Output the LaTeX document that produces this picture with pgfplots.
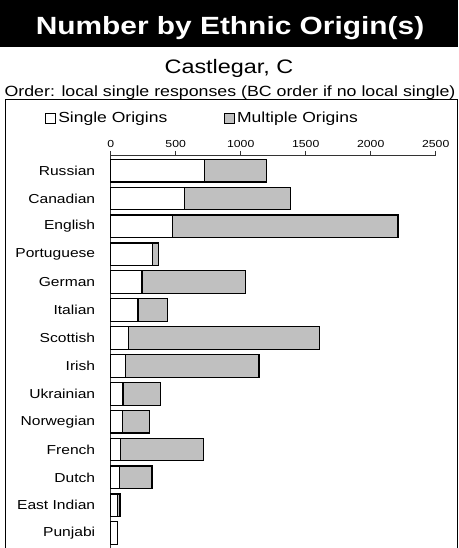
\documentclass[border=0pt]{standalone}
\usepackage{fontspec}
\setmainfont{Liberation Sans}[FakeStretch=1.2]
\usepackage{pgfplots}
\pgfplotsset{compat=1.18}
\definecolor{silv}{RGB}{192,192,192}
\begin{document}
\begin{tikzpicture}
\useasboundingbox (0pt,0pt) rectangle (458pt,548pt);
\fill[black] (0pt,500.7pt) rectangle (458pt,548pt);
\node[text=white,font=\bfseries\fontsize{24.9}{28}\selectfont,anchor=base,inner sep=0pt] at (230pt,513pt) {Number by Ethnic Origin(s)};
\node[font=\fontsize{19.5}{22}\selectfont,anchor=base,inner sep=0pt] at (229pt,474.7pt) {Castlegar, C};
\node[font=\fontsize{14.8}{17}\selectfont,anchor=base,inner sep=0pt] at (230pt,451.8pt) {Order: local single responses (BC order if no local single)};
\draw[line width=0.8pt] (5.5pt,-5pt) -- (5.5pt,448.5pt) -- (457.5pt,448.5pt) -- (457.5pt,-5pt);
\coordinate (A) at (110.7pt,393pt);
\begin{axis}[
  at={(A)}, anchor=north west,
  scale only axis, width=325pt, height=393pt,
  xbar stacked, bar width=22.7pt,
  xmin=0, xmax=2500,
  ymin=-0.53, ymax=13.56,
  axis x line=top, axis y line=left,
  axis line style={-, line width=0.8pt, black!80},
  xtick={0,500,1000,1500,2000,2500},
  tick align=outside, major tick length=4pt,
  x tick style={line width=0.8pt, black!80},
  y tick style={draw=none},
  ytick={0,...,13},
  yticklabels={Punjabi,East Indian,Dutch,French,Norwegian,Ukrainian,Irish,Scottish,Italian,German,Portuguese,English,Canadian,Russian},
  yticklabel style={font=\fontsize{13}{15}\selectfont, xshift=-8pt},
  xticklabel style={font=\fontsize{10.2}{12}\selectfont},
  /pgf/number format/assume math mode=true,
  /pgf/number format/1000 sep={},
  legend style={at={(0.283,1.093)}, anchor=center, draw=none, fill=none,
    legend columns=2, font=\fontsize{14.6}{17}\selectfont,
    /tikz/every even column/.append style={column sep=55pt}},
  legend image code/.code={\draw[#1, line width=0.8pt] (0pt,-5pt) rectangle (10pt,5pt);},
  clip=false,
]
\addplot[fill=white, draw=black, line width=1.2pt] coordinates {
(51,0) (51,1) (69,2) (74,3) (90,4) (95,5) (113,6) (136,7) (210,8) (241,9) (320,10) (477,11) (566,12) (723,13)};
\addlegendentry{Single Origins}
\addplot[fill=silv, draw=black, line width=1.2pt] coordinates {
(0,0) (21,1) (249,2) (639,3) (210,4) (290,5) (1028,6) (1469,7) (226,8) (794,9) (49,10) (1733,11) (819,12) (477,13)};
\addlegendentry{Multiple Origins}
\end{axis}
\end{tikzpicture}
\end{document}
